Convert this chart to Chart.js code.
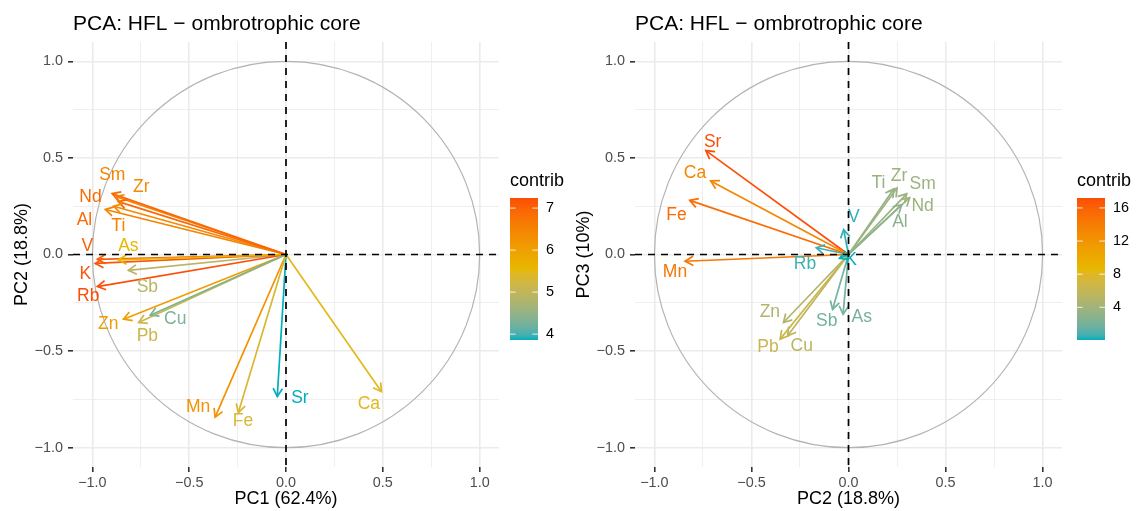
<!DOCTYPE html>
<html>
<head>
<meta charset="utf-8">
<title>PCA: HFL − ombrotrophic core</title>
<script src="https://cdn.jsdelivr.net/npm/chart.js"></script>
<style>
  body { margin: 0; background: #fff; }
  #wrap { display: flex; width: 1136px; height: 511px; }
  canvas { display: block; }
</style>
</head>
<body>
<div id="wrap">
  <canvas id="pc12" width="568" height="511"></canvas>
  <canvas id="pc23" width="568" height="511"></canvas>
</div>
<script>
'use strict';

/* ===== data ===== */
const variables = ['Al', 'As', 'Ca', 'Cu', 'Fe', 'K', 'Mn', 'Nd', 'Pb', 'Rb', 'Sb', 'Sm', 'Sr', 'Ti', 'V', 'Zn', 'Zr'];
const pc1 = [-0.866, -0.866, 0.493, -0.701, -0.246, -0.985, -0.366, -0.898, -0.761, -0.974, -0.814, -0.881, -0.045, -0.933, -0.974, -0.839, -0.890];
const pc2 = [0.274, -0.028, -0.710, -0.314, -0.818, -0.046, -0.842, 0.315, -0.352, -0.166, -0.082, 0.300, -0.735, 0.233, -0.025, -0.335, 0.250];
const pc3 = [0.258, -0.309, 0.381, -0.421, 0.280, -0.020, -0.035, 0.294, -0.438, 0.035, -0.284, 0.314, 0.538, 0.339, 0.129, -0.352, 0.344];

// contribution of each variable on the two planes (colour scale)
const contrib12 = [6.90, 5.60, 5.47, 4.32, 5.34, 7.15, 6.25, 6.90, 5.15, 7.24, 4.90, 6.50, 3.86, 6.50, 7.05, 6.05, 6.40];
const contrib23 = [2.90, 2.00, 13.2, 5.60, 15.2, 0.05, 14.5, 3.75, 6.50, 0.59, 1.80, 3.70, 17.2, 3.40, 0.35, 4.80, 3.70];

// where the (repelled) labels sit, in axis units
const label12X = [-1.041, -0.814, 0.428, -0.572, -0.222, -1.036, -0.454, -1.010, -0.716, -1.021, -0.716, -0.897, 0.072, -0.866, -1.026, -0.918, -0.747];
const label12Y = [0.180, 0.041, -0.773, -0.335, -0.861, -0.103, -0.789, 0.299, -0.423, -0.216, -0.170, 0.412, -0.742, 0.149, 0.041, -0.361, 0.351];
const label23X = [0.265, 0.068, -0.791, -0.241, -0.886, 0.013, -0.894, 0.382, -0.415, -0.224, -0.112, 0.382, -0.700, 0.154, 0.028, -0.405, 0.260];
const label23Y = [0.166, -0.325, 0.423, -0.473, 0.206, -0.031, -0.093, 0.249, -0.479, -0.052, -0.344, 0.366, 0.584, 0.370, 0.191, -0.299, 0.404];

const majorTicks = [-1, -0.5, 0, 0.5, 1];
const minorTicks = [-0.75, -0.25, 0.25, 0.75];
const legendTicks12 = [4, 5, 6, 7];
const legendTicks23 = [4, 8, 12, 16];
const legendRange12 = [3.86, 7.24];
const legendRange23 = [0.05, 17.2];

const gradientCols = ['#00AFBB', '#E7B800', '#FC4E07'];
const FONT = '"Liberation Sans", Arial, Helvetica, sans-serif';

/* ===== colour ramp in Lab (like scales::gradient_n_pal) ===== */
function hexToRgb(h) {
  return [parseInt(h.slice(1, 3), 16), parseInt(h.slice(3, 5), 16), parseInt(h.slice(5, 7), 16)];
}
function toLin(c) { c /= 255; return c <= 0.04045 ? c / 12.92 : Math.pow((c + 0.055) / 1.055, 2.4); }
function toSrgb(c) {
  c = c <= 0.0031308 ? 12.92 * c : 1.055 * Math.pow(c, 1 / 2.4) - 0.055;
  return Math.round(Math.max(0, Math.min(1, c)) * 255);
}
const WX = 0.95047, WY = 1, WZ = 1.08883;
function fLab(t) { return t > 0.008856 ? Math.cbrt(t) : 7.787 * t + 16 / 116; }
function fInv(t) { return t * t * t > 0.008856 ? t * t * t : (t - 16 / 116) / 7.787; }
function rgbToLab(rgb) {
  const [r, g, b] = rgb.map(toLin);
  const X = r * 0.4124 + g * 0.3576 + b * 0.1805;
  const Y = r * 0.2126 + g * 0.7152 + b * 0.0722;
  const Z = r * 0.0193 + g * 0.1192 + b * 0.9505;
  const fx = fLab(X / WX), fy = fLab(Y / WY), fz = fLab(Z / WZ);
  return [116 * fy - 16, 500 * (fx - fy), 200 * (fy - fz)];
}
function labToRgb(lab) {
  const fy = (lab[0] + 16) / 116, fx = fy + lab[1] / 500, fz = fy - lab[2] / 200;
  const X = WX * fInv(fx), Y = WY * fInv(fy), Z = WZ * fInv(fz);
  const r = 3.2406 * X - 1.5372 * Y - 0.4986 * Z;
  const g = -0.9689 * X + 1.8758 * Y + 0.0415 * Z;
  const b = 0.0557 * X - 0.2040 * Y + 1.0570 * Z;
  return [toSrgb(r), toSrgb(g), toSrgb(b)];
}
const stopLabs = gradientCols.map(h => rgbToLab(hexToRgb(h)));

function rampColour(t) {
  t = Math.max(0, Math.min(1, t));
  const seg = t < 0.5 ? 0 : 1;
  const u = (t - seg * 0.5) / 0.5;
  const a = stopLabs[seg], b = stopLabs[seg + 1];
  const rgb = labToRgb([0, 1, 2].map(k => a[k] + (b[k] - a[k]) * u));
  return 'rgb(' + rgb.join(',') + ')';
}
function contribColour(v, range) {
  return rampColour((v - range[0]) / (range[1] - range[0]));
}

function fmtTick(v) {
  return (Math.abs(v) < 1e-9 ? 0 : v).toFixed(1).replace('-', '\u2212');
}

/* ===== axes ===== */
function axisOptions(title, isX, size, titlePad) {
  return {
    type: 'linear',
    min: -1.1,
    max: 1.1,
    afterBuildTicks: function (s) {
      s.ticks = majorTicks.concat(minorTicks).sort((a, b) => a - b).map(v => ({ value: v }));
    },
    afterFit: function (s) {
      if (isX) { s.height = size; } else { s.width = size; }
    },
    grid: {
      color: '#EBEBEB',
      lineWidth: c => (majorTicks.includes(c.tick.value) ? 1.6 : 0.8),
      tickColor: c => (majorTicks.includes(c.tick.value) ? '#333333' : 'rgba(0,0,0,0)'),
      tickLength: 5,
      tickWidth: 1.6
    },
    border: { display: false },
    ticks: {
      autoSkip: false,
      maxRotation: 0,
      padding: isX ? 2 : 5,
      color: '#4D4D4D',
      font: { family: FONT, size: 14.4 },
      callback: v => (majorTicks.includes(v) ? fmtTick(v) : '')
    },
    title: {
      display: true,
      text: title,
      color: '#000',
      font: { family: FONT, size: 18, lineHeight: 1 },
      padding: titlePad
    }
  };
}

/* ===== arrows, circle, labels, legend ===== */
function pcaPlugin(p) {
  return {
    id: 'pca',
    beforeDatasetsDraw(chart) {
      const ctx = chart.ctx, xs = chart.scales.x, ys = chart.scales.y;
      const cx = xs.getPixelForValue(0), cy = ys.getPixelForValue(0);
      const rx = xs.getPixelForValue(1) - cx, ry = cy - ys.getPixelForValue(1);
      ctx.save();
      ctx.strokeStyle = '#B3B3B3';
      ctx.lineWidth = 1.2;
      ctx.beginPath();
      ctx.ellipse(cx, cy, rx, ry, 0, 0, Math.PI * 2);
      ctx.stroke();
      ctx.restore();
    },
    afterDatasetsDraw(chart) {
      const ctx = chart.ctx, xs = chart.scales.x, ys = chart.scales.y, area = chart.chartArea;
      ctx.save();
      // arrow heads
      chart.data.datasets.forEach((ds, i) => {
        const pts = chart.getDatasetMeta(i).data;
        const a = pts[0], b = pts[1];
        const ang = Math.atan2(b.y - a.y, b.x - a.x);
        const len = 9.3, spread = Math.PI / 6;
        ctx.strokeStyle = ds.borderColor;
        ctx.lineWidth = ds.borderWidth;
        ctx.lineJoin = 'miter';
        ctx.beginPath();
        ctx.moveTo(b.x - len * Math.cos(ang - spread), b.y - len * Math.sin(ang - spread));
        ctx.lineTo(b.x, b.y);
        ctx.lineTo(b.x - len * Math.cos(ang + spread), b.y - len * Math.sin(ang + spread));
        ctx.stroke();
      });
      // variable labels
      ctx.font = '17.5px ' + FONT;
      ctx.textAlign = 'center';
      ctx.textBaseline = 'middle';
      variables.forEach((name, i) => {
        ctx.fillStyle = chart.data.datasets[i].borderColor;
        ctx.fillText(name, xs.getPixelForValue(p.labelX[i]), ys.getPixelForValue(p.labelY[i]));
      });
      // dashed axes lines
      ctx.strokeStyle = '#000';
      ctx.lineWidth = 1.7;
      ctx.setLineDash([7, 6]);
      ctx.beginPath();
      ctx.moveTo(area.left, ys.getPixelForValue(0));
      ctx.lineTo(area.right, ys.getPixelForValue(0));
      ctx.moveTo(xs.getPixelForValue(0), area.top);
      ctx.lineTo(xs.getPixelForValue(0), area.bottom);
      ctx.stroke();
      ctx.restore();
    },
    afterDraw(chart) {
      const ctx = chart.ctx, area = chart.chartArea;
      ctx.save();
      // plot title
      ctx.fillStyle = '#000';
      ctx.font = '21px ' + FONT;
      ctx.textAlign = 'left';
      ctx.textBaseline = 'middle';
      ctx.fillText('PCA: HFL \u2212 ombrotrophic core', area.left, 24);

      // colour bar legend
      const lx = p.legendX, top = 198, bottom = 340, bw = 28, h = bottom - top;
      ctx.font = '18px ' + FONT;
      ctx.fillText('contrib', lx, 181);
      const grad = ctx.createLinearGradient(0, bottom, 0, top);
      for (let k = 0; k <= 40; k++) {
        grad.addColorStop(k / 40, rampColour(k / 40));
      }
      ctx.fillStyle = grad;
      ctx.fillRect(lx, top, bw, h);
      ctx.strokeStyle = 'rgba(255,255,255,0.85)';
      ctx.lineWidth = 1;
      ctx.font = '14.4px ' + FONT;
      ctx.fillStyle = '#000';
      p.legendTicks.forEach(v => {
        const y = bottom - (v - p.range[0]) / (p.range[1] - p.range[0]) * h;
        ctx.beginPath();
        ctx.moveTo(lx, y); ctx.lineTo(lx + 5.6, y);
        ctx.moveTo(lx + bw - 5.6, y); ctx.lineTo(lx + bw, y);
        ctx.stroke();
        ctx.fillText(String(v), lx + bw + 8, y);
      });
      ctx.restore();
    }
  };
}

function makeChart(id, xs, ys, contrib, range, opts) {
  const datasets = variables.map((name, i) => ({
    label: name,
    data: [{ x: 0, y: 0 }, { x: xs[i], y: ys[i] }],
    borderColor: contribColour(contrib[i], range),
    borderWidth: 1.7,
    pointRadius: 0,
    showLine: true,
    fill: false
  }));
  return new Chart(document.getElementById(id), {
    type: 'scatter',
    data: { datasets },
    options: {
      responsive: false,
      animation: false,
      events: [],
      layout: { padding: { top: 42, right: opts.padRight, left: 0, bottom: 0 } },
      plugins: { legend: { display: false }, tooltip: { enabled: false }, title: { display: false } },
      scales: {
        x: axisOptions(opts.xTitle, true, 44, { top: 0, bottom: 3 }),
        y: axisOptions(opts.yTitle, false, opts.yWidth, { top: opts.yTitleX - 9, bottom: 0 })
      }
    },
    plugins: [pcaPlugin(opts)]
  });
}

makeChart('pc12', pc1, pc2, contrib12, legendRange12, {
  xTitle: 'PC1 (62.4%)', yTitle: 'PC2 (18.8%)',
  yWidth: 73, padRight: 69, yTitleX: 22,
  labelX: label12X, labelY: label12Y,
  legendX: 510, legendTicks: legendTicks12, range: legendRange12
});

makeChart('pc23', pc2, pc3, contrib23, legendRange23, {
  xTitle: 'PC2 (18.8%)', yTitle: 'PC3 (10%)',
  yWidth: 67, padRight: 74, yTitleX: 16,
  labelX: label23X, labelY: label23Y,
  legendX: 509, legendTicks: legendTicks23, range: legendRange23
});
</script>
</body>
</html>
